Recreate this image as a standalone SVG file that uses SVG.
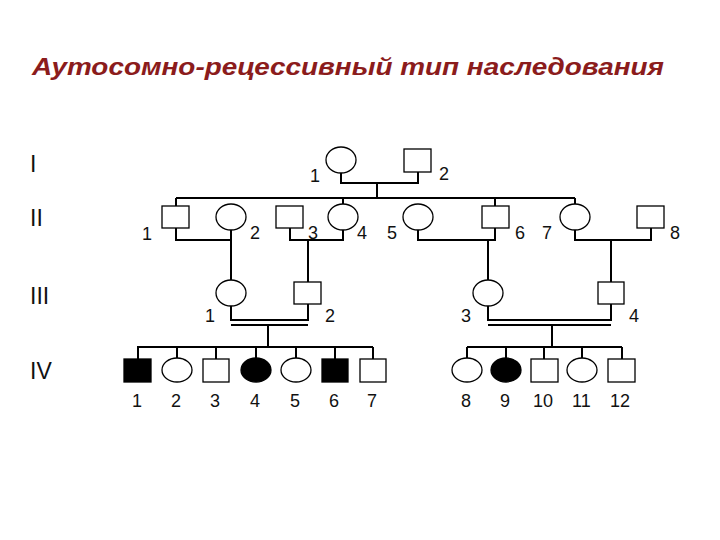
<svg xmlns="http://www.w3.org/2000/svg" width="720" height="540" viewBox="0 0 720 540">
<style>
.n{fill:#fff;stroke:#000;stroke-width:1.3}
.a{fill:#000;stroke:#000;stroke-width:1.3}
.l{fill:none;stroke:#000;stroke-width:2}
text{font-family:"Liberation Sans",Arial,sans-serif;font-size:18px;fill:#111}
.g{font-size:23px}
</style>
<rect width="720" height="540" fill="#fff"/>
<text x="32" y="75" style="font-size:23px;font-weight:bold;font-style:italic;fill:#8b1c1c" textLength="632" lengthAdjust="spacingAndGlyphs">Аутосомно-рецессивный тип наследования</text>
<text class="g" x="30" y="172">I</text>
<text class="g" x="30" y="226">II</text>
<text class="g" x="30" y="304">III</text>
<text class="g" x="30" y="379">IV</text>
<g id="connectors">
<path class="l" d="M341,173V183H418V172M377,183V198M176,198H575M176,198V206M343,198V206M495,198V206M575,198V206"/>
<path class="l" d="M176,228V240H231V230M231,240V280M290,228V240H343V230M308,240V282M418,230V240H495V228M488,240V280M575,230V240H651V228M611,240V282"/>
<path class="l" d="M231,306V320H308V304M231,325H308M268,325V347M137,347H373M138,347V359M177,347V359M216,347V359M256,347V359M296,347V359M335,347V359M373,347V359"/>
<path class="l" d="M488,306V320H611V304M488,325H611M552,325V347M467,347H622M467,347V359M506,347V359M544,347V359M582,347V359M622,347V359"/>
</g>
<g id="I1"><ellipse class="n" cx="341" cy="160" rx="15" ry="13"/><text x="310" y="182">1</text></g>
<g id="I2"><rect class="n" x="404" y="149" width="27" height="23"/><text x="439" y="180">2</text></g>
<g id="II1"><rect class="n" x="162" y="206" width="27" height="22"/><text x="142" y="240">1</text></g>
<g id="II2"><ellipse class="n" cx="231" cy="217" rx="15" ry="13"/><text x="250" y="239">2</text></g>
<g id="II3"><rect class="n" x="276" y="206" width="27" height="22"/><text x="308" y="239">3</text></g>
<g id="II4"><ellipse class="n" cx="343" cy="217" rx="15" ry="13"/><text x="357" y="239">4</text></g>
<g id="II5"><ellipse class="n" cx="418" cy="217" rx="15" ry="13"/><text x="387" y="239">5</text></g>
<g id="II6"><rect class="n" x="482" y="206" width="27" height="22"/><text x="515" y="239">6</text></g>
<g id="II7"><ellipse class="n" cx="575" cy="217" rx="15" ry="13"/><text x="542" y="239">7</text></g>
<g id="II8"><rect class="n" x="637" y="206" width="27" height="22"/><text x="670" y="239">8</text></g>
<g id="III1"><ellipse class="n" cx="231" cy="293" rx="15" ry="13"/><text x="205" y="322">1</text></g>
<g id="III2"><rect class="n" x="294" y="282" width="27" height="22"/><text x="325" y="322">2</text></g>
<g id="III3"><ellipse class="n" cx="488" cy="293" rx="15" ry="13"/><text x="461" y="322">3</text></g>
<g id="III4"><rect class="n" x="598" y="282" width="26" height="22"/><text x="629" y="322">4</text></g>
<g id="IV1"><rect class="a" x="124" y="359" width="27" height="23"/><text x="132" y="407">1</text></g>
<g id="IV2"><ellipse class="n" cx="177" cy="370" rx="15" ry="12"/><text x="171" y="407">2</text></g>
<g id="IV3"><rect class="n" x="203" y="359" width="26" height="23"/><text x="210" y="407">3</text></g>
<g id="IV4"><ellipse class="a" cx="256" cy="370" rx="15" ry="12"/><text x="250" y="407">4</text></g>
<g id="IV5"><ellipse class="n" cx="296" cy="370" rx="15" ry="12"/><text x="290" y="407">5</text></g>
<g id="IV6"><rect class="a" x="322" y="359" width="26" height="23"/><text x="329" y="407">6</text></g>
<g id="IV7"><rect class="n" x="360" y="359" width="26" height="23"/><text x="367" y="407">7</text></g>
<g id="IV8"><ellipse class="n" cx="467" cy="370" rx="15" ry="12"/><text x="461" y="407">8</text></g>
<g id="IV9"><ellipse class="a" cx="506" cy="370" rx="15" ry="12"/><text x="500" y="407">9</text></g>
<g id="IV10"><rect class="n" x="531" y="359" width="27" height="23"/><text x="533" y="407">10</text></g>
<g id="IV11"><ellipse class="n" cx="582" cy="370" rx="15" ry="12"/><text x="572" y="407">11</text></g>
<g id="IV12"><rect class="n" x="608" y="359" width="27" height="23"/><text x="610" y="407">12</text></g>
</svg>
